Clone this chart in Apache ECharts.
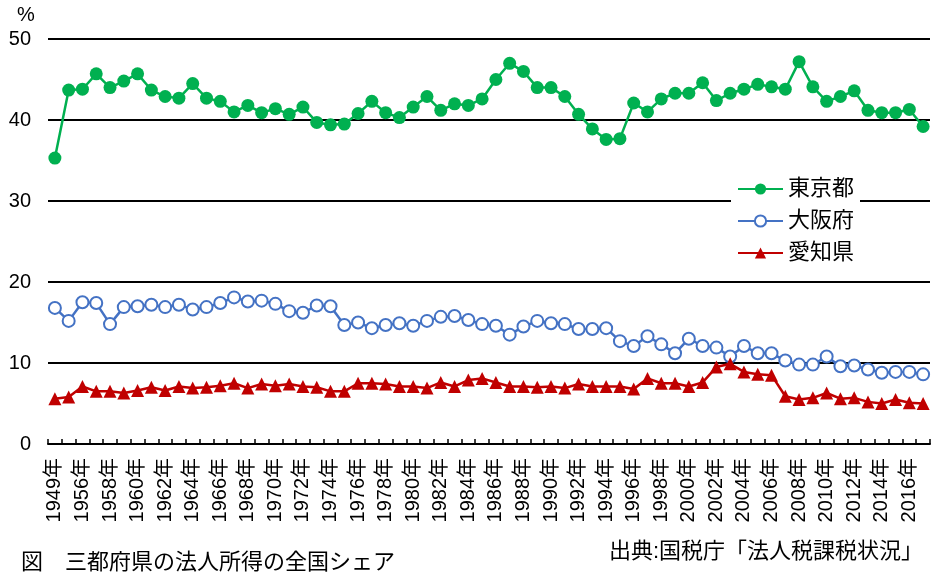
<!DOCTYPE html>
<html>
<head>
<meta charset="utf-8">
<script src="https://cdn.jsdelivr.net/npm/echarts@6/dist/echarts.min.js"></script>
<style>
html,body{margin:0;padding:0;background:#fff;}
#chart{width:939px;height:577px;}
</style>
</head>
<body>
<div id="chart"></div>
<script>
var years = ['1949年','1955年','1956年','1957年','1958年','1959年','1960年','1961年','1962年','1963年',
'1964年','1965年','1966年','1967年','1968年','1969年','1970年','1971年','1972年','1973年',
'1974年','1975年','1976年','1977年','1978年','1979年','1980年','1981年','1982年','1983年',
'1984年','1985年','1986年','1987年','1988年','1989年','1990年','1991年','1992年','1993年',
'1994年','1995年','1996年','1997年','1998年','1999年','2000年','2001年','2002年','2003年',
'2004年','2005年','2006年','2007年','2008年','2009年','2010年','2011年','2012年','2013年',
'2014年','2015年','2016年','2017年'];

var tokyo = [35.3,43.7,43.8,45.7,44.0,44.8,45.7,43.7,42.9,42.7,
44.5,42.7,42.3,41.0,41.8,40.9,41.4,40.7,41.6,39.7,
39.4,39.5,40.8,42.3,40.9,40.3,41.6,42.9,41.2,42.0,
41.8,42.6,45.0,47.0,46.0,44.0,44.0,42.9,40.7,38.9,
37.6,37.7,42.1,41.0,42.6,43.3,43.3,44.6,42.4,43.3,
43.8,44.4,44.1,43.8,47.2,44.1,42.3,42.9,43.6,41.2,
40.9,40.9,41.3,39.2];

var osaka = [16.8,15.2,17.5,17.4,14.8,16.9,17.0,17.2,16.9,17.2,
16.6,16.9,17.4,18.1,17.6,17.7,17.3,16.4,16.2,17.1,
17.0,14.7,15.0,14.3,14.7,14.9,14.6,15.2,15.7,15.8,
15.3,14.8,14.6,13.5,14.5,15.2,14.9,14.8,14.2,14.2,
14.3,12.7,12.1,13.3,12.3,11.2,13.0,12.1,11.9,10.8,
12.1,11.2,11.2,10.3,9.8,9.8,10.8,9.6,9.7,9.2,
8.8,8.9,8.9,8.6];

var aichi = [5.6,5.8,7.1,6.5,6.5,6.3,6.6,7.0,6.6,7.1,
6.9,7.0,7.2,7.5,6.9,7.4,7.2,7.4,7.1,7.0,
6.5,6.5,7.5,7.5,7.4,7.1,7.1,6.9,7.6,7.1,
7.9,8.1,7.6,7.1,7.1,7.0,7.1,6.9,7.4,7.1,
7.1,7.1,6.8,8.1,7.5,7.5,7.1,7.6,9.5,9.9,
8.9,8.6,8.5,5.9,5.5,5.7,6.3,5.6,5.7,5.2,
5.0,5.5,5.1,5.0];

var seriesNames = ['東京都','大阪府','愛知県'];
var unitLabel = '%';
var captionText = '図　三都府県の法人所得の全国シェア';
var sourceText = '出典:国税庁「法人税課税状況」';

var FONT = "'Liberation Sans','Noto Sans CJK JP',sans-serif";
var chart = echarts.init(document.getElementById('chart'));
chart.setOption({
  animation: false,
  backgroundColor: '#fff',
  textStyle: {fontFamily: FONT, color: '#000'},
  grid: {left: 48, right: 9, top: 39, bottom: 133, containLabel: false},
  xAxis: {
    type: 'category',
    data: years,
    boundaryGap: true,
    axisLine: {show: true, lineStyle: {color: '#000', width: 2}},
    axisTick: {show: true, inside: true, length: 5, interval: 0, lineStyle: {color: '#000', width: 1.5}},
    axisLabel: {interval: 1, rotate: 90, margin: 14, fontSize: 20, color: '#000', fontFamily: FONT},
    splitLine: {show: false}
  },
  yAxis: {
    type: 'value',
    min: 0, max: 50, interval: 10,
    axisLine: {show: false},
    axisTick: {show: false},
    axisLabel: {fontSize: 20, color: '#000', margin: 17, fontFamily: FONT},
    splitLine: {show: true, lineStyle: {color: '#000', width: 2}}
  },
  legend: {
    orient: 'vertical',
    left: 731, top: 174,
    padding: [4, 6],
    itemWidth: 45, itemHeight: 14, itemGap: 10,
    backgroundColor: '#fff',
    textStyle: {fontSize: 22, color: '#000', fontFamily: FONT},
    data: seriesNames
  },
  series: [
    {
      name: seriesNames[0], type: 'line', data: tokyo,
      symbol: 'circle', symbolSize: 13, showAllSymbol: true,
      lineStyle: {color: '#00B050', width: 2.5},
      itemStyle: {color: '#00B050'}
    },
    {
      name: seriesNames[1], type: 'line', data: osaka,
      symbol: 'emptyCircle', symbolSize: 12, showAllSymbol: true,
      lineStyle: {color: '#4472C4', width: 2.5},
      itemStyle: {color: '#4472C4', borderWidth: 2.5}
    },
    {
      name: seriesNames[2], type: 'line', data: aichi,
      symbol: 'triangle', symbolSize: 13, showAllSymbol: true,
      lineStyle: {color: '#C00000', width: 2.5},
      itemStyle: {color: '#C00000'}
    }
  ],
  graphic: [
    {type: 'text', left: 17, top: 5, style: {text: unitLabel, fontSize: 20, fill: '#000', fontFamily: FONT}},
    {type: 'text', left: 21, top: 552, style: {text: captionText, fontSize: 22, fill: '#000', fontFamily: FONT}},
    {type: 'text', right: 16, top: 541, style: {text: sourceText, fontSize: 22, fill: '#000', fontFamily: FONT}}
  ]
});
</script>
</body>
</html>
